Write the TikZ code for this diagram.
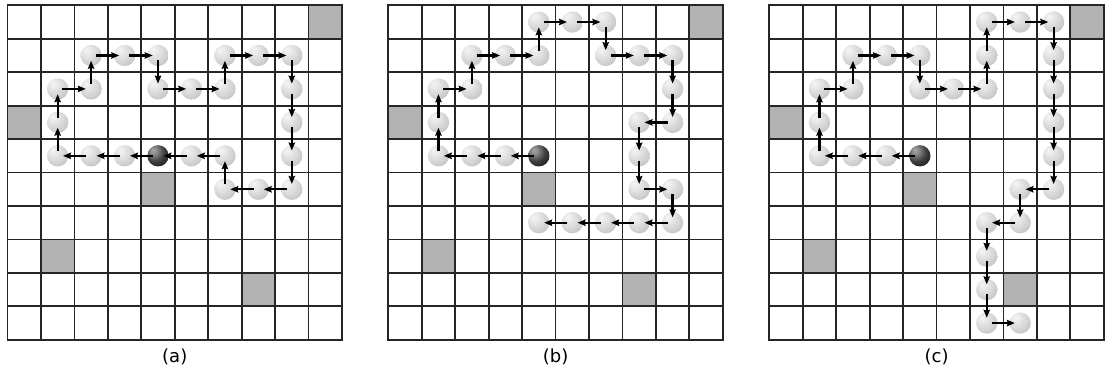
\documentclass[tikz,border=0pt]{standalone}
\usepackage{fontspec}
\setmainfont{DejaVu Sans}
\usetikzlibrary{arrows.meta}
\pgfdeclareradialshading{lightball}{\pgfpoint{-12bp}{14bp}}{%
  color(0bp)=(black!4);
  color(12bp)=(black!10);
  color(28bp)=(black!19);
  color(42bp)=(black!28);
  color(56bp)=(black!36);
  color(70bp)=(black!42)}
\pgfdeclareradialshading{darkball}{\pgfpoint{-12bp}{14bp}}{%
  color(0bp)=(black!35);
  color(8bp)=(black!45);
  color(22bp)=(black!75);
  color(40bp)=(black!92);
  color(60bp)=(black);
  color(70bp)=(black)}
\tikzset{
  cellgray/.style={fill=black!30},
  gridline/.style={line width=1.3pt, draw=black!85, line cap=rect},
  lball/.style={circle, inner sep=0pt, minimum size=16pt, shade, shading=lightball},
  dball/.style={circle, inner sep=0pt, minimum size=16pt, shade, shading=darkball},
  arr/.style={line width=1.7pt, -{Stealth[length=6pt,width=4.8pt,inset=0.8pt]},
              shorten <=3.6pt, shorten >=4pt},
  lab/.style={anchor=base, inner sep=0pt, font=\fontsize{13.5}{16}\selectfont}
}
\def\pathA{3/4,2/4,1/4,1/3,1/2,2/2,2/1,3/1,4/1,4/2,5/2,6/2,6/1,7/1,8/1,8/2,8/3,8/4,8/5,7/5,6/5,6/4,5/4}
\def\pathB{3/4,2/4,1/4,1/3,1/2,2/2,2/1,3/1,4/1,4/0,5/0,6/0,6/1,7/1,8/1,8/2,8/3,7/3,7/4,7/5,8/5,8/6,7/6,6/6,5/6,4/6}
\def\pathC{3/4,2/4,1/4,1/3,1/2,2/2,2/1,3/1,4/1,4/2,5/2,6/2,6/1,6/0,7/0,8/0,8/1,8/2,8/3,8/4,8/5,7/5,7/6,6/6,6/7,6/8,6/9,7/9}
\newcommand\panel[4]{% #1 prefix, #2 x offset px, #3 path, #4 label
  \begin{scope}[shift={(#2,5.3)}, x=25.0875pt, y=-25.0875pt]
    \foreach \c/\r in {9/0,0/3,4/5,1/7,7/8}
      \fill[cellgray] (\c,\r) rectangle +(1,1);
    \foreach \i in {0,...,10} {
      \draw[gridline] (\i,0) -- (\i,10);
      \draw[gridline] (0,\i) -- (10,\i);
    }
    \node[dball] (#144) at (4.5,4.5) {};
    \foreach \c/\r in #3
      \node[lball] (#1\c\r) at (\c+0.5,\r+0.5) {};
    \foreach \c/\r [remember=\c as \pc (initially 4), remember=\r as \pr (initially 4)] in #3
      \draw[arr] (#1\pc\pr.center) -- (#1\c\r.center);
    \node[lab] (#1lab) at (5,10.69) {#4};
  \end{scope}}
\begin{document}
\begin{tikzpicture}[x=0.75pt, y=-0.75pt]
  \useasboundingbox (0,0) rectangle (1107,370);
  \panel{a}{7.5}{\pathA}{(a)}
  \draw[arr] (a54.center) -- (a44.center);
  \panel{b}{388.3}{\pathB}{(b)}
  \panel{c}{769.3}{\pathC}{(c)}
\end{tikzpicture}
\end{document}
